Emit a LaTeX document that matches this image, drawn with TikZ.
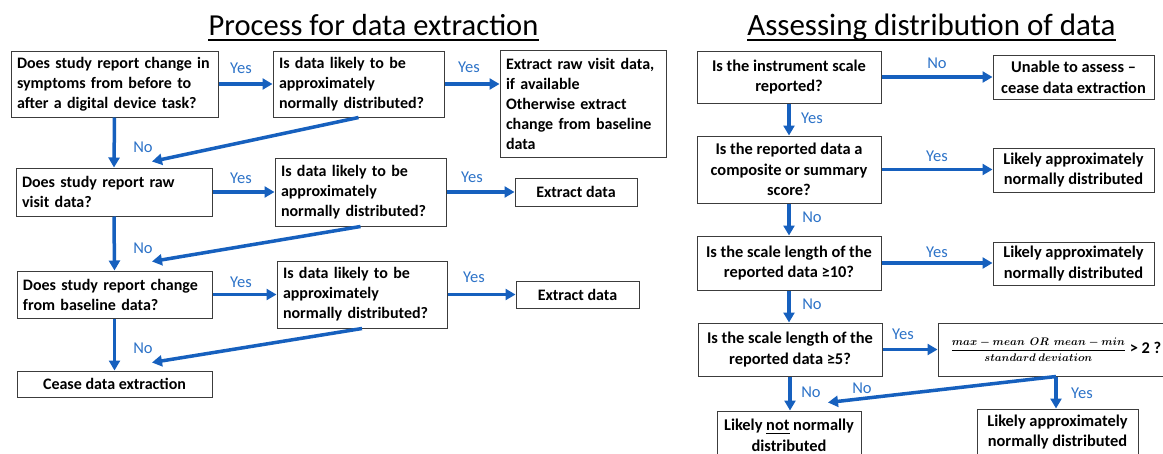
\documentclass[tikz,border=0pt]{standalone}
\usepackage{fontspec}
\setmainfont{Carlito}
\usepackage{amsmath}
\usetikzlibrary{arrows.meta}
\definecolor{arrowBlue}{RGB}{22,96,190}
\definecolor{labelBlue}{RGB}{45,115,200}
\definecolor{boxGray}{RGB}{60,60,60}
\tikzset{
  qbox/.style={draw=boxGray, line width=1pt, fill=white, inner xsep=6pt, inner ysep=2pt,
    align=center, font=\bfseries\fontsize{16}{20}\selectfont},
  lbox/.style={qbox, align=left, text width=#1},
  rbox/.style={qbox, font=\bfseries\fontsize{16.4}{20.7}\selectfont},
  flow/.style={-{Triangle[length=10pt,width=11pt]}, draw=arrowBlue, line width=3.5pt},
  lbl/.style={text=labelBlue, font=\fontsize{16.5}{18}\selectfont, inner sep=0pt,
    text height=10.5pt, text depth=0pt},
  ttl/.style={anchor=base, inner sep=0pt},
  uline/.style={line width=1.3pt}
}

\begin{document}
\begin{tikzpicture}[x=1pt,y=-1pt]
\useasboundingbox (0,0) rectangle (1163,453);
\clip (0,0) rectangle (1163,453);
\fill[white] (0,0) rectangle (1163,453);

% Titles
\node[ttl, font=\fontsize{30.5}{36}\selectfont] (ttlL) at (373.5,35) {Process for data extraction};
\draw[uline] ([yshift=-5pt]ttlL.base west) -- ([yshift=-5pt]ttlL.base east);
\node[ttl, font=\fontsize{31}{36}\selectfont] (ttlR) at (931.5,35) {Assessing distribution of data};
\draw[uline] ([yshift=-5pt]ttlR.base west) -- ([yshift=-5pt]ttlR.base east);

% Left chart: boxes
\node[lbox=195pt, minimum height=66pt] (a1) at (114.5,84) {Does study report change in\\ symptoms from before to\\ after a digital device task?};
\node[lbox=159pt, minimum height=66pt] (a2) at (358.5,84) {Is data likely to be\\ approximately\\ normally distributed?};
\node[lbox=154pt, minimum height=107pt] (a3) at (583,103.5) {Extract raw visit data,\\ if available\\ Otherwise extract\\ change from baseline\\ data};
\node[lbox=184pt, minimum height=48pt] (b1) at (114,192) {Does study report raw\\ visit data?};
\node[lbox=159pt, minimum height=68pt] (b2) at (360.5,192) {Is data likely to be\\ approximately\\ normally distributed?};
\node[qbox, minimum width=122pt, minimum height=28pt] (b3) at (576,192) {Extract data};
\node[lbox=183pt, minimum height=47pt] (c1) at (114.5,294.5) {Does study report change\\ from baseline data?};
\node[lbox=158pt, minimum height=67pt] (c2) at (362,294.5) {Is data likely to be\\ approximately\\ normally distributed?};
\node[qbox, minimum width=123pt, minimum height=27pt] (c3) at (577.5,294.5) {Extract data};
\node[qbox, minimum width=195pt, minimum height=26pt] (d1) at (114.5,384) {Cease data extraction};

% Left chart: connectors
\draw[flow] (a1.east) -- (a2.west);
\draw[flow] (a2.east) -- (a2.east -| a3.west);
\draw[flow] (a1.south) -- (b1.north);
\draw[flow] (a2.south) -- ([xshift=38pt,yshift=6pt]b1.north);
\draw[flow] (b1.east) -- (b2.west);
\draw[flow] (b2.east) -- (b3.west);
\draw[flow] (b1.south) -- (c1.north);
\draw[flow] (b2.south) -- ([xshift=37.5pt,yshift=9pt]c1.north);
\draw[flow] (c1.east) -- (c2.west);
\draw[flow] (c2.east) -- (c3.west);
\draw[flow] (c1.south) -- (d1.north);
\draw[flow] (c2.south) -- ([xshift=37.5pt,yshift=8pt]d1.north);

% Left chart: labels
\node[lbl] (ya1) at (241,68) {Yes};
\node[lbl] (ya2) at (469,67) {Yes};
\node[lbl] (na1) at (143,147) {No};
\node[lbl] (yb1) at (241,178) {Yes};
\node[lbl] (yb2) at (472,177) {Yes};
\node[lbl] (nb1) at (143,248) {No};
\node[lbl] (yc1) at (241,282) {Yes};
\node[lbl] (yc2) at (474,277) {Yes};
\node[lbl] (nc1) at (143,348) {No};

% Right chart: boxes
\node[rbox, minimum width=184pt, minimum height=52pt] (r1) at (789,77) {Is the instrument scale\\ reported?};
\node[rbox, minimum width=161pt, minimum height=44pt] (r1b) at (1073.5,77) {Unable to assess --\\ cease data extraction};
\node[rbox, minimum width=184pt, minimum height=67pt] (r2) at (789,169.5) {Is the reported data a\\ composite or summary\\ score?};
\node[rbox, minimum width=161pt, minimum height=44pt] (r2b) at (1073.5,170) {Likely approximately\\ normally distributed};
\node[rbox, minimum width=184pt, minimum height=54pt] (r3) at (789,263) {Is the scale length of the\\ reported data ≥10?};
\node[rbox, minimum width=161pt, minimum height=43pt] (r3b) at (1073.5,263.5) {Likely approximately\\ normally distributed};
\node[rbox, minimum width=184pt, minimum height=53pt] (r4) at (790,349.5) {Is the scale length of the\\ reported data ≥5?};
\node[rbox, minimum width=236pt, minimum height=53pt] (r4b) at (1056,349.5) {{\fontsize{11}{13}\selectfont\boldmath$\dfrac{max - mean\ \ OR\ \ mean - min}{standard\ deviation}$} > 2 ?};
\node[rbox, minimum width=144pt, minimum height=48pt] (r5) at (789,435) {Likely \underline{not} normally\\ distributed};
\node[rbox, minimum width=161pt, minimum height=46pt] (r6) at (1057.5,432) {Likely approximately\\ normally distributed};

% Right chart: connectors
\draw[flow] (r1.east) -- (r1b.west);
\draw[flow] (r1.south) -- (r2.north);
\draw[flow] (r2.east) -- (r2.east -| r2b.west);
\draw[flow] (r2.south) -- (r3.north);
\draw[flow] (r3.east) -- (r3.east -| r3b.west);
\draw[flow] (r3.south) -- (r3.south |- r4.north);
\draw[flow] (r4.east) -- (r4b.west);
\draw[flow] (r4.south) -- (r4.south |- r5.north);
\draw[flow] (r4b.south) -- ([xshift=39pt,yshift=8pt]r5.north);
\draw[flow] (r4b.south) -- (r4b.south |- r6.north);

% Right chart: labels
\node[lbl] (nr1) at (937,63) {No};
\node[lbl] (yr1) at (812,118) {Yes};
\node[lbl] (yr2) at (937,156) {Yes};
\node[lbl] (nr2) at (812,217) {No};
\node[lbl] (yr3) at (937,252) {Yes};
\node[lbl] (nr3) at (812,304) {No};
\node[lbl] (yr4) at (903,334) {Yes};
\node[lbl] (nr4) at (811,392) {No};
\node[lbl] (nr5) at (862,388) {No};
\node[lbl] (yr5) at (1082,393) {Yes};
\end{tikzpicture}
\end{document}
